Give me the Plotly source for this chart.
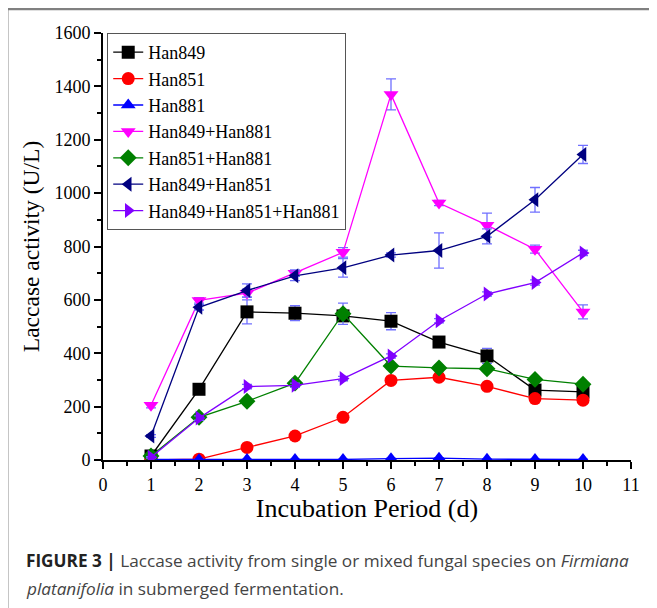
import plotly.graph_objects as go

days = [1, 2, 3, 4, 5, 6, 7, 8, 9, 10]

han849 = [15, 265, 555, 550, 540, 520, 442, 390, 262, 255]
han851 = [0, 3, 47, 90, 160, 298, 310, 276, 230, 224]
han881 = [2, 1, 2, 2, 2, 5, 7, 3, 2, 2]
han849_881 = [205, 598, 625, 700, 778, 1370, 963, 880, 790, 555]
han851_881 = [15, 160, 220, 288, 548, 352, 345, 342, 302, 284]
han849_851 = [90, 572, 635, 690, 720, 768, 785, 838, 975, 1145]
han_all = [10, 157, 275, 280, 305, 390, 522, 622, 665, 776]

err849 = [8, 12, 45, 28, 15, 32, 12, 28, 10, 10]
err851 = [3, 3, 8, 8, 10, 12, 12, 8, 10, 12]
err881 = [1, 1, 1, 1, 1, 2, 2, 1, 1, 1]
err849_881 = [10, 10, 15, 12, 18, 58, 10, 45, 15, 26]
err851_881 = [5, 8, 8, 10, 40, 10, 10, 10, 10, 8]
err849_851 = [5, 10, 25, 18, 35, 8, 66, 28, 46, 34]
err_all = [3, 8, 8, 8, 8, 8, 8, 8, 10, 10]

names = ["Han849", "Han851", "Han881", "Han849+Han881", "Han851+Han881",
         "Han849+Han851", "Han849+Han851+Han881"]
series = [han849, han851, han881, han849_881, han851_881, han849_851, han_all]
errors = [err849, err851, err881, err849_881, err851_881, err849_851, err_all]
colors = ["#000000", "#FF0000", "#0000FF", "#FF00FF", "#008000", "#000080", "#8000FF"]
symbols = ["square", "circle", "triangle-up", "triangle-down", "diamond",
           "triangle-left", "triangle-right"]

fig = go.Figure()
for name, ys, er, c, s in zip(names, series, errors, colors, symbols):
    fig.add_trace(go.Scatter(
        x=days, y=ys, name=name, mode="lines+markers",
        line=dict(color=c, width=1.3),
        marker=dict(symbol=s, size=13, color=c, line=dict(width=0)),
        error_y=dict(type="data", array=er, visible=True, color="#7070FF",
                     thickness=1.3, width=5),
    ))

serif = "Liberation Serif"
axis_common = dict(
    showline=True, linecolor="black", linewidth=1.8, mirror=False,
    showgrid=False, zeroline=False, ticks="outside", ticklen=7, tickwidth=1.8,
    tickcolor="black",
)
fig.update_xaxes(
    range=[0, 11], dtick=1, tick0=0,
    tickfont=dict(family=serif, size=18, color="black"),
    minor=dict(ticks="outside", ticklen=4, tickwidth=1.5, dtick=0.5, tickcolor="black"),
    title=dict(text="Incubation Period (d)", font=dict(family=serif, size=26, color="black"), standoff=0),
    **axis_common,
)
fig.update_yaxes(
    range=[0, 1600], dtick=200, tick0=0,
    tickfont=dict(family=serif, size=18, color="black"),
    minor=dict(ticks="outside", ticklen=4, tickwidth=1.5, dtick=100, tickcolor="black"),
    title=dict(text="Laccase activity (U/L)", font=dict(family=serif, size=23.5, color="black"), standoff=8),
    **axis_common,
)

caption_font = dict(family="Open Sans", size=17.2, color="#444444")
fig.update_layout(
    template="none",
    width=649, height=600,
    margin=dict(l=95, r=26, t=25, b=148, autoexpand=False),
    paper_bgcolor="white", plot_bgcolor="white",
    font=dict(family=serif, color="black"),
    showlegend=True,
    legend=dict(
        x=0.008, y=1.0, xanchor="left", yanchor="top",
        bordercolor="#555555", borderwidth=1, bgcolor="white",
        font=dict(family=serif, size=18, color="black"),
        tracegroupgap=0, itemwidth=30,
    ),
    annotations=[
        dict(xref="paper", yref="paper", x=-0.1496, y=-0.2365, xanchor="left", yanchor="middle",
             align="left", showarrow=False,
             text="<b style='color:#222222'>FIGURE 3 |</b> Laccase activity from single or mixed fungal species on <i>Firmiana</i>",
             font=caption_font),
        dict(xref="paper", yref="paper", x=-0.1496, y=-0.2998, xanchor="left", yanchor="middle",
             align="left", showarrow=False,
             text="<i>platanifolia</i> in submerged fermentation.",
             font=caption_font),
    ],
    shapes=[
        dict(type="line", xref="paper", yref="paper", x0=-0.18, x1=1.06, y0=1.056, y1=1.056,
             line=dict(color="#808080", width=2.5)),
        dict(type="line", xref="paper", yref="paper", x0=-0.18, x1=-0.18, y0=1.058, y1=-0.35,
             line=dict(color="#808080", width=1)),
    ],
)

fig.write_html("out.html")
